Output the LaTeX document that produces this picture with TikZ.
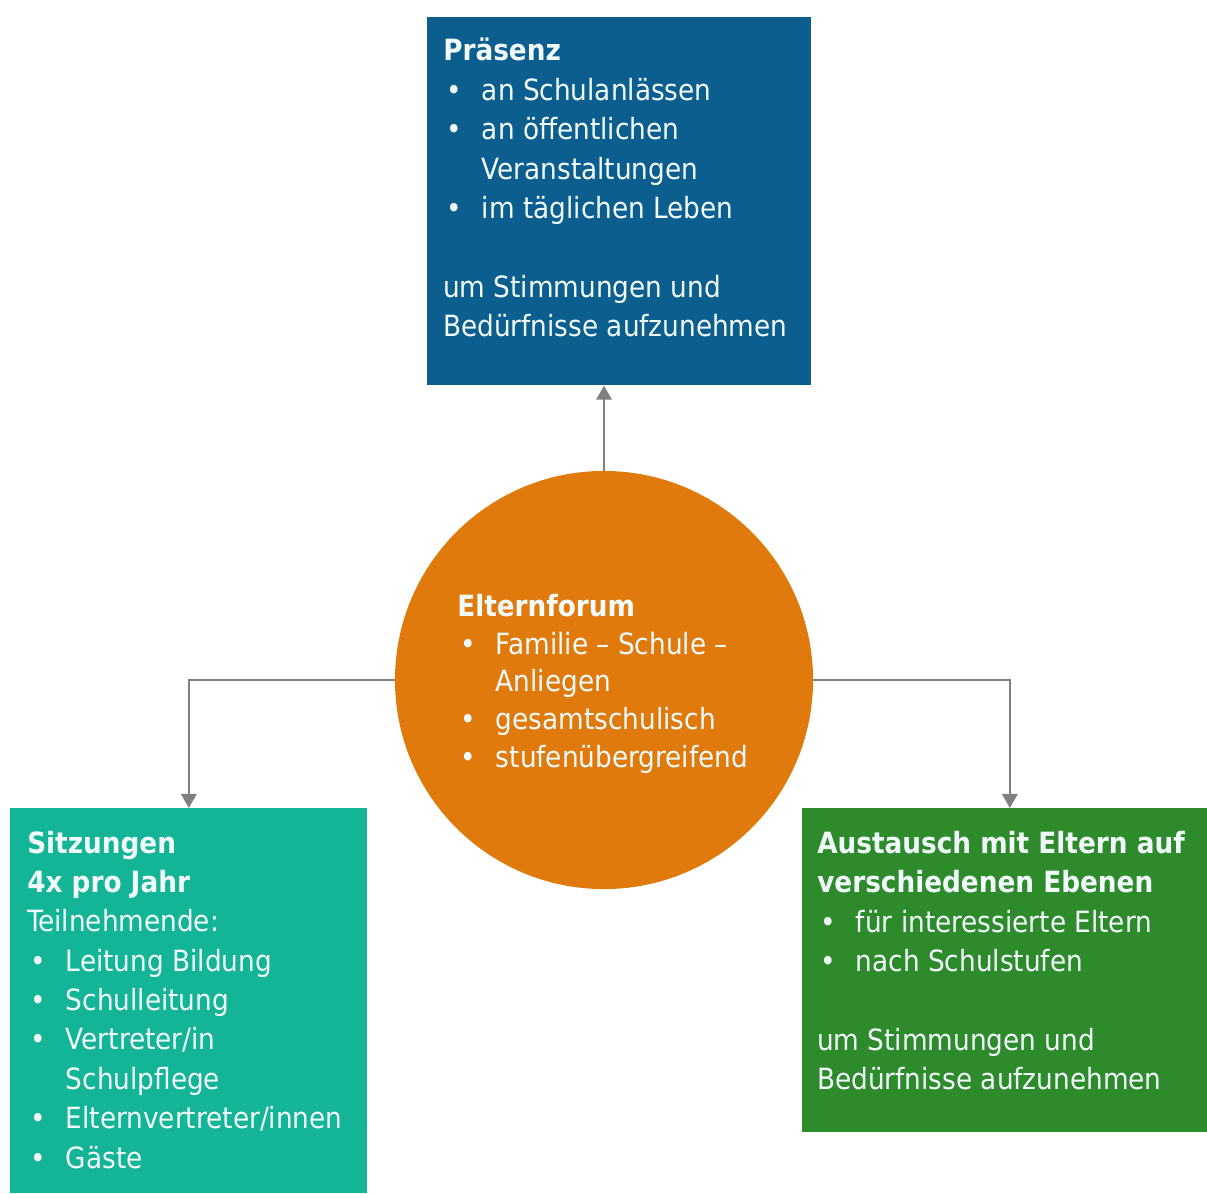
\documentclass[tikz,border=0pt]{standalone}
\usepackage{fontspec}
\setmainfont{DejaVu Sans Condensed}
\usetikzlibrary{positioning, arrows.meta}
\definecolor{blu}{HTML}{0B5E8E}
\definecolor{orng}{HTML}{E07A0C}
\definecolor{teal}{HTML}{14B496}
\definecolor{grn}{HTML}{2E8B2C}
\definecolor{txt}{HTML}{F2FBFB}
\definecolor{conn}{HTML}{808080}
\newlength{\bw}
\setlength{\bw}{27.5pt}
\newcommand{\bul}[1]{\makebox[\bw][l]{\hspace{2.5pt}\textbullet}#1}
\newcommand{\cont}[1]{\hspace*{\bw}#1}

\begin{document}
\begin{tikzpicture}[x=0.025cm, y=-0.025cm]
  \tikzset{
    box/.style={rectangle, draw=none, inner sep=0pt, anchor=north west},
    lbl/.style={anchor=base west, align=left, inner sep=0pt, text=txt,
      font=\fontsize{20.8}{28}\selectfont},
    arr/.style={draw=conn, line width=1.6pt, -{Triangle[width=11pt,length=10pt]}}
  }
  \useasboundingbox (0,0) rectangle (1207,1193);
  % boxes
  \node[box, fill=blu, minimum width=9.6cm, minimum height=9.2cm] (pres) at (427,17) {};
  \node[box, fill=teal, minimum width=8.925cm, minimum height=9.625cm] (sitz) at (10,808) {};
  \node[box, fill=grn, minimum width=10.125cm, minimum height=8.1cm] (aust) at (802,808) {};
  \node[circle, fill=orng, minimum size=10.45cm, inner sep=0pt] (forum) at (604,680) {};
  % texts (anchored at the baseline of the last line)
  \node[lbl] (presT) at (443,336.5) {\textbf{Präsenz}\\
    \bul{an Schulanlässen}\\
    \bul{an öffentlichen}\\
    \cont{Veranstaltungen}\\
    \bul{im täglichen Leben}\\[28pt]
    um Stimmungen und\\
    Bedürfnisse aufzunehmen};
  \node[lbl, font=\fontsize{20.8}{26.7}\selectfont] (forumT) at (457,767) {\textbf{Elternforum}\\
    \bul{Familie – Schule –}\\
    \cont{Anliegen}\\
    \bul{gesamtschulisch}\\
    \bul{stufenübergreifend}};
  \node[lbl] (sitzT) at (27,1168) {\textbf{Sitzungen}\\
    \textbf{4x pro Jahr}\\
    Teilnehmende:\\
    \bul{Leitung Bildung}\\
    \bul{Schulleitung}\\
    \bul{Vertreter/in}\\
    \cont{Schulpflege}\\
    \bul{Elternvertreter/innen}\\
    \bul{Gäste}};
  \node[lbl] (austT) at (817,1089.5) {\textbf{Austausch mit Eltern auf}\\
    \textbf{verschiedenen Ebenen}\\
    \bul{für interessierte Eltern}\\
    \bul{nach Schulstufen}\\[28pt]
    um Stimmungen und\\
    Bedürfnisse aufzunehmen};
  % connectors
  \draw[arr] (forum.north) -- (forum.north |- pres.south);
  \draw[arr] (forum.west) -| (sitz.north);
  \draw[arr] (forum.east) -| ([xshift=0.125cm]aust.north);
\end{tikzpicture}
\end{document}
